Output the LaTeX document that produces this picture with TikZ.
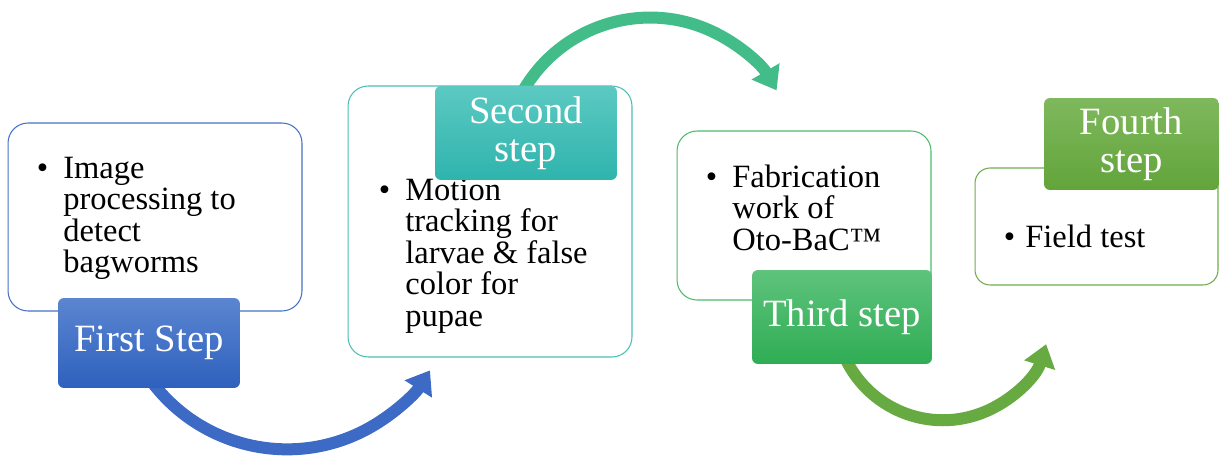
\documentclass[tikz,border=0pt]{standalone}
\usepackage{fontspec}
\setmainfont{Liberation Serif}
\usepackage{xcolor}
\usetikzlibrary{arrows.meta,backgrounds}

\definecolor{firstblue}{HTML}{4472C4}
\definecolor{secondteal}{HTML}{4BBFB6}
\definecolor{thirdgreen}{HTML}{4CBB6C}
\definecolor{fourthgreen}{HTML}{70AD47}
\definecolor{firsttop}{HTML}{5B85D0}
\definecolor{firstbottom}{HTML}{2E61BE}
\definecolor{secondtop}{HTML}{5CC9C2}
\definecolor{secondbottom}{HTML}{2EB4AD}
\definecolor{thirdtop}{HTML}{5EC37C}
\definecolor{thirdbottom}{HTML}{2FAD54}
\definecolor{fourthtop}{HTML}{7FB85D}
\definecolor{fourthbottom}{HTML}{62A43A}
\definecolor{flowblue}{HTML}{3C6AC5}
\definecolor{flowteal}{HTML}{42BD8A}
\definecolor{flowgreen}{HTML}{68AA42}

\newcommand{\bulletlines}[2]{\llap{\textbullet\hspace{#1}}\parbox[t]{6cm}{#2}}

\tikzset{
  stepbox/.style={draw, fill=white, rounded corners=0.4cm, line width=0.6pt, inner sep=0},
  steplabel/.style={rounded corners=0.12cm, text=white, align=center, inner sep=0,
    font=\fontsize{22}{21.6}\selectfont},
  bodytext/.style={anchor=base west, inner sep=0, font=\fontsize{18.5}{18}\selectfont},
  flow/.style={line width=0.24cm, -{Triangle[length=0.44cm, width=0.62cm]}}
}

\begin{document}
\begin{tikzpicture}[x=0.02cm, y=0.02cm]
        \useasboundingbox (0,0) rectangle (1219,457);

        % First step
        \node[stepbox, draw=firstblue, minimum width=5.88cm, minimum height=3.76cm] (box1) at (155,240) {};
        \node[bodytext] (t1) at (63,279) {\bulletlines{0.3cm}{Image\\processing to\\detect\\bagworms}};
        \node[steplabel, top color=firsttop, bottom color=firstbottom,
              minimum width=3.64cm, minimum height=1.8cm] (lab1) at (149,114) {First Step};

        % Second step
        \node[stepbox, draw=secondteal, minimum width=5.68cm, minimum height=5.42cm] (box2) at (490,235.5) {};
        \node[bodytext] (t2) at (405,257) {\bulletlines{0.3cm}{Motion\\tracking for\\larvae \& false\\color for\\pupae}};
        \node[steplabel, top color=secondtop, bottom color=secondbottom,
              minimum width=3.64cm, minimum height=1.88cm] (lab2) at (526,324) {Second\\step};

        % Third step
        \node[stepbox, draw=thirdgreen, minimum width=5.08cm, minimum height=3.38cm] (box3) at (804,241.5) {};
        \node[bodytext] (t3) at (732,270) {\bulletlines{0.3cm}{Fabrication\\work of\\Oto-BaC™}};
        \node[steplabel, top color=thirdtop, bottom color=thirdbottom,
              minimum width=3.6cm, minimum height=1.88cm] (lab3) at (842,140) {Third step};

        % Fourth step
        \node[stepbox, draw=fourthgreen, rounded corners=0.3cm, minimum width=4.86cm, minimum height=2.34cm] (box4) at (1096.5,230.5) {};
        \node[bodytext] (t4) at (1025,210) {\bulletlines{0.2cm}{Field test}};
        \node[steplabel, top color=fourthtop, bottom color=fourthbottom,
              minimum width=3.5cm, minimum height=1.84cm] (lab4) at (1131.5,313) {Fourth\\step};

        % Curved arrows between the steps
        \coordinate (o1) at ([shift={(138,108)}]lab1.south);
        \coordinate (o2) at ([shift={(124,-78.4)}]lab2.north);
        \coordinate (o3) at ([shift={(101,52.1)}]lab3.south);
        \begin{pgfonlayer}{background}
          \draw[flow, color=flowblue] (o1) ++(210:3.38cm) arc[start angle=210, end angle=327.8, radius=3.38cm];
          \draw[flow, color=flowteal] (o2) ++(155:2.93cm) arc[start angle=155, end angle=30.2, radius=2.93cm];
          \draw[flow, color=flowgreen] (o3) ++(200:2.16cm) arc[start angle=200, end angle=342.8, radius=2.16cm];
        \end{pgfonlayer}
    \end{tikzpicture}
\end{document}
